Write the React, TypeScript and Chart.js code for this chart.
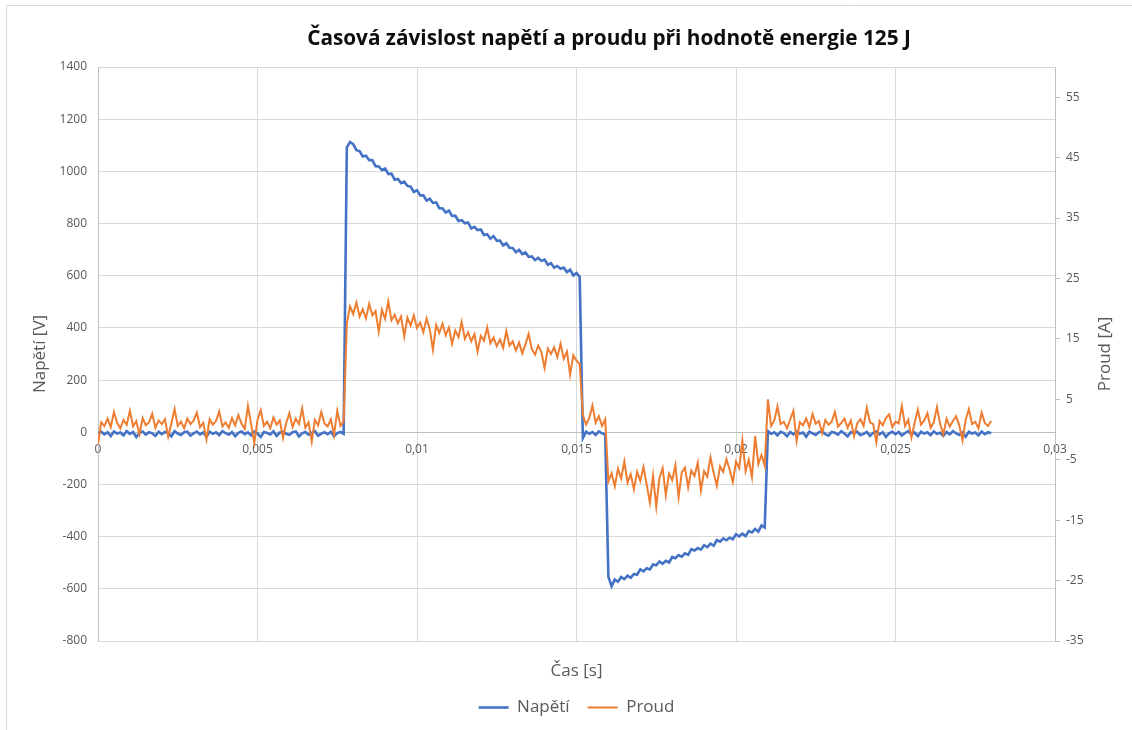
import React, { useEffect, useRef } from 'react';
import { Chart, registerables } from 'chart.js';

Chart.register(...registerables);

const TITLE = 'Časová závislost napětí a proudu při hodnotě energie 125 J';
const SERIES_NAMES = ['Napětí', 'Proud'];
const AXIS_TITLES = ['Čas [s]', 'Napětí [V]', 'Proud [A]'];

// sampling interval [s] and start time of each recorded segment
const T_STEP = 0.0001;
const SEGMENT_STARTS = [0, 0.0078, 0.0152, 0.016, 0.021];

// Napětí [V]
const NAPETI_SEG_1 = [
  -3, 2, -8, 0, -15, 3, -5, -1, -12, 4,
  -6, 1, -18, -2, 3, -9, 0, -4, -14, 2,
  -7, 1, -3, -16, 4, -5, -10, 0, 2, -13,
  -4, 3, -8, -1, -17, 2, -6, 0, -11, 4,
  -3, -9, 1, -15, -2, 3, -7, 0, -12, 2,
  -5, -18, 1, -3, -8, 4, -14, -1, 2, -6,
  -10, 0, 3, -16, -4, 1, -9, -2, 4, -13,
  -5, 0, -7, 2, -15, -3, 1, -6,
];
const NAPETI_SEG_2 = [
  1092, 1112, 1104, 1081, 1078, 1057, 1060, 1043, 1043, 1020,
  1019, 1005, 1011, 990, 991, 968, 971, 955, 961, 944,
  941, 921, 928, 908, 908, 888, 895, 879, 881, 859,
  858, 842, 850, 829, 830, 810, 813, 801, 804, 781,
  787, 775, 777, 756, 759, 742, 752, 734, 735, 716,
  724, 707, 706, 690, 699, 683, 689, 672, 674, 660,
  668, 657, 662, 642, 648, 631, 637, 627, 631, 614,
  623, 601, 610, 596,
];
const NAPETI_SEG_3 = [-22, 2, -6, 1, -10, 3, -4, -8];
const NAPETI_SEG_4 = [
  -554, -590, -564, -573, -555, -563, -550, -558, -543, -546,
  -525, -533, -521, -526, -507, -510, -495, -504, -493, -499,
  -478, -483, -471, -477, -464, -470, -448, -453, -444, -450,
  -433, -440, -427, -435, -413, -419, -407, -414, -404, -410,
  -391, -399, -389, -398, -379, -384, -371, -381, -357, -365,
];
const NAPETI_SEG_5 = [
  4, -6, 0, -12, 2, -3, -15, 1, -8, 3,
  -5, -1, -17, 2, -4, -10, 0, 3, -7, -13,
  1, -2, -9, 4, -5, -16, 0, -3, 2, -11,
  -6, 1, -14, -2, 3, -8, 0, -18, -4, 2,
  -7, 1, -12, -3, 4, -9, -1, -15, 2, -5,
  0, -11, 3, -6, -2, -14, 1, -8, 4, -4,
  -10, 0, -17, 2, -5, -1, -12, 3, -7, 0,
  -4,
];

// Proud [A]
const PROUD_SEG_1 = [
  -2.5, 1.2, 0.6, 1.8, 0.4, 2.9, 1.1, 0.2, 1.6, 0.8,
  3.1, 0.5, 1.4, -0.8, 1.9, 0.7, 1.2, 2.6, 0.3, 1.5,
  0.9, 1.7, -1.2, 1.0, 3.4, 0.6, 1.3, 0.2, 1.8, 0.9,
  1.5, 2.8, 0.4, 1.1, -1.6, 1.7, 0.8, 1.4, 3.0, 0.5,
  1.2, 0.3, 1.9, 0.7, 2.4, 1.0, 0.1, 3.9, 0.9, -2.2,
  1.6, 3.2, 0.6, 1.3, 0.2, 2.0, 0.8, 1.5, -1.4, 1.1,
  2.7, 0.4, 1.8, 0.9, 3.5, 0.3, 1.2, -2.0, 1.6, 0.7,
  2.9, 1.0, 0.5, 1.7, -0.9, 3.1, 0.6, 1.3,
];
const PROUD_SEG_2 = [
  17.5, 20.4, 19.1, 21.0, 18.7, 19.9, 18.4, 20.8, 18.9, 19.6,
  16.2, 19.8, 18.3, 21.2, 18.1, 19.0, 17.6, 18.7, 15.4, 18.5,
  17.2, 18.9, 16.8, 17.7, 16.1, 18.4, 16.6, 13.2, 17.3, 16.0,
  17.5, 15.6, 16.9, 14.2, 16.4, 15.3, 17.8, 15.0, 16.1, 14.6,
  15.8, 12.9, 15.5, 14.7, 16.9, 14.3, 15.2, 13.8, 14.9, 13.5,
  16.3, 13.9, 14.6, 13.1, 14.4, 12.6, 14.1, 15.8, 13.3, 12.4,
  13.9, 12.8, 10.2, 13.4, 12.5, 13.6, 12.0, 14.2, 11.7, 12.9,
  9.1, 12.3, 11.4, 10.8,
];
const PROUD_SEG_3 = [2.4, 0.8, 1.9, 4.0, 1.1, 2.2, 0.6, 1.7];
const PROUD_SEG_4 = [
  -8.6, -7.2, -9.4, -6.5, -8.1, -5.3, -8.8, -7.4, -9.9, -7.0,
  -8.5, -6.2, -9.1, -12.1, -7.6, -12.8, -8.0, -6.4, -10.9, -7.3,
  -8.4, -5.9, -11.2, -7.1, -6.3, -9.6, -6.8, -7.7, -5.5, -10.1,
  -6.9, -7.8, -4.6, -7.2, -9.3, -6.1, -7.0, -4.9, -6.6, -8.7,
  -5.3, -6.4, -1.8, -6.9, -5.0, -7.9, -1.1, -5.7, -4.2, -6.0,
];
const PROUD_SEG_5 = [
  5.0, 0.6, 1.5, 3.8, 0.9, 1.3, 0.2, 1.7, 3.1, -1.9,
  1.2, 0.7, 1.8, 0.4, 2.6, 1.0, 1.4, -0.6, 1.6, 0.8,
  1.3, 2.9, 0.5, 1.1, 1.8, 0.3, 1.5, -1.1, 1.0, 1.7,
  0.6, 3.6, 1.2, 0.9, -2.1, 1.4, 0.7, 1.9, 2.5, 0.4,
  1.3, 1.0, 3.9, 0.6, 1.6, -1.3, 1.1, 3.3, 0.8, 1.5,
  2.7, 0.3, 1.2, 3.7, 0.9, -0.8, 1.8, 0.5, 1.4, 2.2,
  0.7, -1.8, 1.6, 3.4, 0.9, 1.3, 0.2, 2.8, 1.1, 0.6,
  1.4,
];

const X_TICKS = [0, 0.005, 0.01, 0.015, 0.02, 0.025, 0.03];
const X_TICK_LABELS = ['0', '0,005', '0,01', '0,015', '0,02', '0,025', '0,03'];
const Y_TICKS = [-800, -600, -400, -200, 0, 200, 400, 600, 800, 1000, 1200, 1400];
const Y2_TICKS = [-35, -25, -15, -5, 5, 15, 25, 35, 45, 55];
const Y2_RANGE = [-35, 60];

const FONT = '"Open Sans", "Noto Sans", sans-serif';
const GRAY_TEXT = '#595959';
const GRID = '#d9d9d9';
const AXIS = '#bfbfbf';
const BLUE = '#4472C4';
const ORANGE = '#ED7D31';

function buildPoints(segments: number[][]) {
  const pts: { x: number; y: number }[] = [];
  segments.forEach((seg, s) => {
    seg.forEach((v, k) => {
      pts.push({ x: +(SEGMENT_STARTS[s] + k * T_STEP).toFixed(5), y: v });
    });
  });
  return pts;
}

const decorPlugin = {
  id: 'decor',
  beforeDraw(chart: any) {
    const ctx = chart.ctx;
    ctx.save();
    ctx.fillStyle = '#ffffff';
    ctx.fillRect(0, 0, chart.width, chart.height);
    ctx.strokeStyle = GRID;
    ctx.lineWidth = 1;
    ctx.beginPath();
    ctx.moveTo(6.5, chart.height);
    ctx.lineTo(6.5, 5.5);
    ctx.lineTo(chart.width, 5.5);
    ctx.stroke();
    ctx.restore();
  },
  afterDraw(chart: any) {
    const ctx = chart.ctx;
    const area = chart.chartArea;
    ctx.save();
    // chart title, fitted to the reference width
    let size = 20;
    ctx.font = `bold ${size}px ${FONT}`;
    const w = ctx.measureText(TITLE).width;
    size = (size * 604) / w;
    ctx.font = `bold ${size}px ${FONT}`;
    ctx.fillStyle = '#0d0d0d';
    ctx.textAlign = 'center';
    ctx.textBaseline = 'middle';
    ctx.fillText(TITLE, 609, 39);
    // secondary axis title, reading bottom to top
    ctx.font = `17px ${FONT}`;
    ctx.fillStyle = GRAY_TEXT;
    ctx.translate(area.right + 50, (area.top + area.bottom) / 2);
    ctx.rotate(-Math.PI / 2);
    ctx.fillText(AXIS_TITLES[2], 0, 0);
    ctx.restore();
  },
};

export default function App() {
  const canvasRef = useRef<HTMLCanvasElement | null>(null);

  useEffect(() => {
    if (!canvasRef.current) return;
    const tickFont = { family: FONT, size: 12 };
    const chart = new Chart(canvasRef.current, {
      type: 'line',
      data: {
        datasets: [
          {
            label: SERIES_NAMES[0],
            data: buildPoints([NAPETI_SEG_1, NAPETI_SEG_2, NAPETI_SEG_3, NAPETI_SEG_4, NAPETI_SEG_5]),
            borderColor: BLUE,
            backgroundColor: BLUE,
            borderWidth: 2.6,
            pointRadius: 0,
            tension: 0,
            yAxisID: 'y',
            order: 1,
          },
          {
            label: SERIES_NAMES[1],
            data: buildPoints([PROUD_SEG_1, PROUD_SEG_2, PROUD_SEG_3, PROUD_SEG_4, PROUD_SEG_5]),
            borderColor: ORANGE,
            backgroundColor: ORANGE,
            borderWidth: 2,
            pointRadius: 0,
            tension: 0,
            yAxisID: 'y2',
            order: 0,
          },
        ],
      },
      plugins: [decorPlugin],
      options: {
        animation: false,
        responsive: true,
        maintainAspectRatio: false,
        layout: { padding: { top: 67, left: 7, right: 0, bottom: 4 } },
        plugins: {
          title: { display: false },
          tooltip: { enabled: false },
          legend: {
            display: true,
            position: 'bottom',
            fullSize: false,
            labels: {
              usePointStyle: true,
              pointStyle: 'line',
              pointStyleWidth: 30,
              padding: 18,
              color: GRAY_TEXT,
              font: { family: FONT, size: 17 },
              sort: (a: any, b: any) => a.datasetIndex - b.datasetIndex,
            },
          },
        },
        scales: {
          x: {
            type: 'linear',
            min: 0,
            max: 0.03,
            position: { y: 0 } as any,
            afterBuildTicks: (s: any) => {
              s.ticks = X_TICKS.map((v) => ({ value: v }));
            },
            afterFit: (s: any) => {
              s.height = 0;
            },
            ticks: {
              autoSkip: false,
              maxRotation: 0,
              padding: 10,
              color: GRAY_TEXT,
              font: tickFont,
              callback: (_v: any, i: number) => X_TICK_LABELS[i],
            },
            grid: { color: GRID, drawTicks: false },
            border: { color: AXIS, width: 1 },
          },
          x2: {
            type: 'linear',
            position: 'bottom',
            min: 0,
            max: 0.03,
            grid: { display: false },
            ticks: { display: false },
            border: { display: false },
            afterFit: (s: any) => {
              s.height = 40;
            },
            title: {
              display: true,
              text: AXIS_TITLES[0],
              color: GRAY_TEXT,
              font: { family: FONT, size: 17 },
              padding: { top: 11, bottom: 0 },
            },
          },
          y: {
            type: 'linear',
            position: 'left',
            min: Y_TICKS[0],
            max: Y_TICKS[Y_TICKS.length - 1],
            afterBuildTicks: (s: any) => {
              s.ticks = Y_TICKS.map((v) => ({ value: v }));
            },
            afterFit: (s: any) => {
              s.width = 91;
            },
            ticks: {
              padding: 11,
              color: GRAY_TEXT,
              font: tickFont,
              callback: (v: any) => String(v),
            },
            grid: { color: GRID, drawTicks: false },
            border: { color: AXIS, width: 1 },
            title: {
              display: true,
              text: AXIS_TITLES[1],
              color: GRAY_TEXT,
              font: { family: FONT, size: 17 },
              padding: { top: 23, bottom: 0 },
            },
          },
          y2: {
            type: 'linear',
            position: 'right',
            min: Y2_RANGE[0],
            max: Y2_RANGE[1],
            afterBuildTicks: (s: any) => {
              s.ticks = Y2_TICKS.map((v) => ({ value: v }));
            },
            afterFit: (s: any) => {
              s.width = 77;
            },
            ticks: {
              padding: 6,
              color: GRAY_TEXT,
              font: tickFont,
              callback: (v: any) => String(v),
            },
            grid: { drawOnChartArea: false, drawTicks: true, tickLength: 5, color: AXIS },
            border: { color: AXIS, width: 1 },
          },
        },
      } as any,
    });
    return () => chart.destroy();
  }, []);

  return (
    <div style={{ position: 'fixed', left: 0, top: 0, width: 1132, height: 730, background: '#fff' }}>
      <canvas ref={canvasRef} />
    </div>
  );
}
